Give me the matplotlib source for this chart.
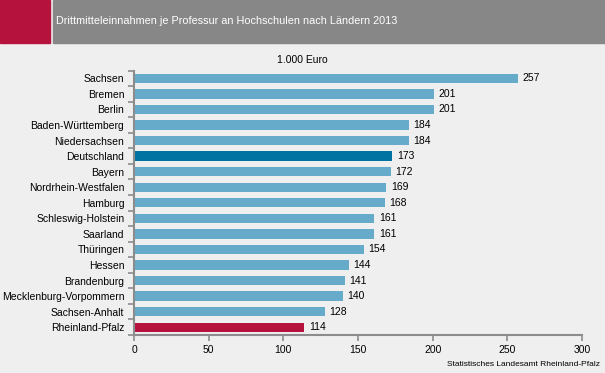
import matplotlib.pyplot as plt
from matplotlib.patches import Rectangle

plt.rcParams["font.family"] = ["Liberation Sans", "DejaVu Sans"]

laender = [
    "Sachsen", "Bremen", "Berlin", "Baden-Württemberg", "Niedersachsen",
    "Deutschland", "Bayern", "Nordrhein-Westfalen", "Hamburg",
    "Schleswig-Holstein", "Saarland", "Thüringen", "Hessen", "Brandenburg",
    "Mecklenburg-Vorpommern", "Sachsen-Anhalt", "Rheinland-Pfalz",
]
werte = [257, 201, 201, 184, 184, 173, 172, 169, 168, 161, 161, 154, 144, 141, 140, 128, 114]
x_ticks = [0, 50, 100, 150, 200, 250, 300]

bg = "#EFEFEF"
blau = "#66ABCA"
dunkelblau = "#0073A3"
rot = "#B5123E"
grau = "#878787"

farben = []
for name in laender:
    if name == "Deutschland":
        farben.append(dunkelblau)
    elif name == "Rheinland-Pfalz":
        farben.append(rot)
    else:
        farben.append(blau)

W, H = 605, 373
fig = plt.figure(figsize=(W / 100, H / 100), dpi=100, facecolor=bg)

# header
fig.patches.append(Rectangle((0, 1 - 43 / H), 50 / W, 43 / H,
                             transform=fig.transFigure, color=rot, zorder=0))
fig.patches.append(Rectangle((53 / W, 1 - 43 / H), 1 - 53 / W, 43 / H,
                             transform=fig.transFigure, color=grau, zorder=0))
fig.text(56 / W, 1 - 21.5 / H, "Drittmitteleinnahmen je Professur an Hochschulen nach Ländern 2013",
         color="white", fontsize=7.8, va="center", ha="left")

ax = fig.add_axes([134 / W, 1 - 335 / H, 448 / W, 264.5 / H])
ax.set_facecolor(bg)

pos = list(range(len(laender)))
ax.barh(pos, werte, height=0.6, color=farben)
for p, w in zip(pos, werte):
    ax.text(w + 3, p, str(w), va="center", ha="left", fontsize=7.5)

ax.set_xlim(0, 300)
ax.set_ylim(len(laender) - 0.5, -0.5)
ax.set_xticks(x_ticks)
ax.set_xticklabels([str(t) for t in x_ticks], fontsize=7.5)
ax.set_yticks(pos)
ax.set_yticklabels(laender, fontsize=7.5)
ax.tick_params(axis="y", length=0, pad=7)
ax.set_yticks([p - 0.5 for p in pos] + [len(laender) - 0.5], minor=True)
ax.tick_params(axis="y", which="minor", length=4, width=1.2, color="#8C8C8C")
ax.tick_params(axis="x", length=4, width=1.2, color="#8C8C8C", pad=3)

for s in ["top", "right"]:
    ax.spines[s].set_visible(False)
for s in ["left", "bottom"]:
    ax.spines[s].set_color("#8C8C8C")
    ax.spines[s].set_linewidth(1.5)

fig.text(302 / W, 1 - 60 / H, "1.000 Euro", fontsize=7.5, ha="center", va="center")
fig.text(600 / W, 1 - 365 / H, "Statistisches Landesamt Rheinland-Pfalz",
         fontsize=6, ha="right", va="center")

fig.savefig("out.png", dpi=100, facecolor=bg)
